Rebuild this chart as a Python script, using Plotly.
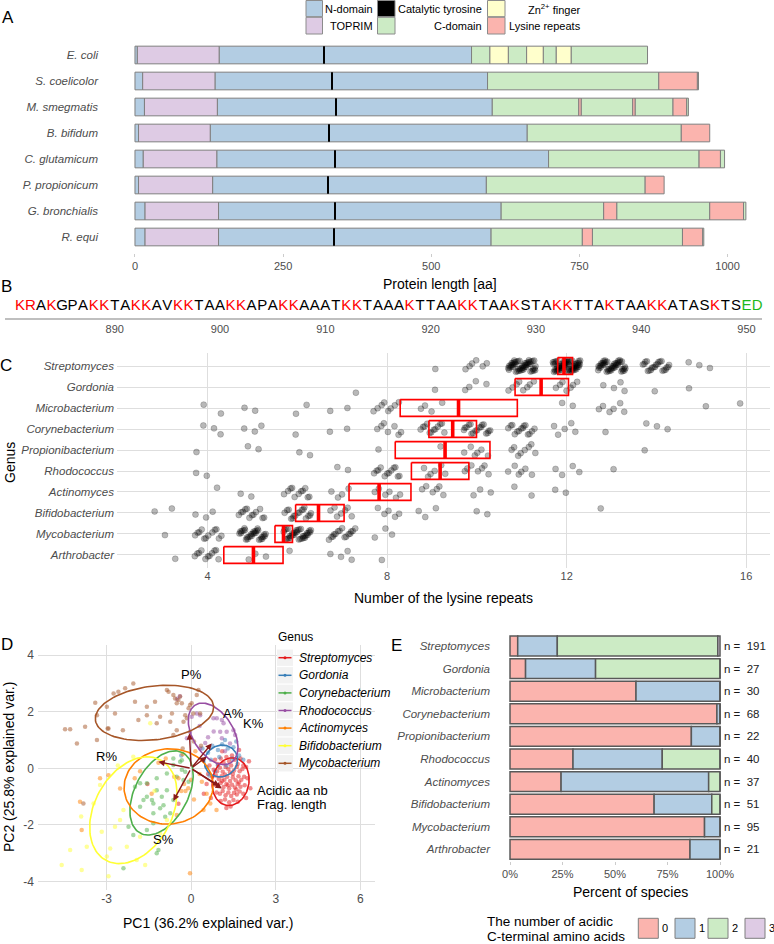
import numpy as np
import plotly.graph_objects as go

W, H = 774, 944
FONT = "Liberation Sans, Arial, sans-serif"
TICK_GRAY = "#4D4D4D"
GRID = "#DEDEDE"


def fx(px):
    return px / W


def fy(py):
    return 1 - py / H


# ---------------- Panel A data ----------------
ORGANISMS = ["E. coli", "S. coelicolor", "M. smegmatis", "B. bifidum",
             "C. glutamicum", "P. propionicum", "G. bronchialis", "R. equi"]
TYROSINE_POS = [319, 333, 339, 327, 338, 326, 338, 336]
SEG_E_COLI = [("N", 0, 4), ("T", 4, 142), ("N", 142, 568), ("C", 568, 599), ("Z", 599, 630),
              ("C", 630, 661), ("Z", 661, 689), ("C", 689, 711), ("Z", 711, 736), ("C", 736, 865)]
SEG_S_COELICOLOR = [("N", 0, 13), ("T", 13, 135), ("N", 135, 595), ("C", 595, 884), ("K", 884, 949), ("C", 949, 951)]
SEG_M_SMEGMATIS = [("N", 0, 16), ("T", 16, 139), ("N", 139, 603), ("C", 603, 749), ("K", 749, 753),
                   ("C", 753, 840), ("K", 840, 844), ("C", 844, 908), ("K", 908, 931), ("C", 931, 934)]
SEG_B_BIFIDUM = [("N", 0, 6), ("T", 6, 127), ("N", 127, 662), ("C", 662, 922), ("K", 922, 970)]
SEG_C_GLUTAMICUM = [("N", 0, 14), ("T", 14, 138), ("N", 138, 698), ("C", 698, 952), ("K", 952, 988), ("C", 988, 995)]
SEG_P_PROPIONICUM = [("N", 0, 6), ("T", 6, 131), ("N", 131, 593), ("C", 593, 861), ("K", 861, 893)]
SEG_G_BRONCHIALIS = [("N", 0, 17), ("T", 17, 141), ("N", 141, 618), ("C", 618, 791), ("K", 791, 813),
                     ("C", 813, 970), ("K", 970, 1027), ("C", 1027, 1031)]
SEG_R_EQUI = [("N", 0, 17), ("T", 17, 141), ("N", 141, 601), ("C", 601, 755), ("K", 755, 772),
              ("C", 772, 924), ("K", 924, 958), ("C", 958, 960)]
SEGMENTS = [SEG_E_COLI, SEG_S_COELICOLOR, SEG_M_SMEGMATIS, SEG_B_BIFIDUM,
            SEG_C_GLUTAMICUM, SEG_P_PROPIONICUM, SEG_G_BRONCHIALIS, SEG_R_EQUI]
DOMAIN_COLORS = {"N": "#B3CDE3", "T": "#DECBE4", "C": "#CCEBC5", "Z": "#FFFFCC", "K": "#FBB4AE"}
A_TICKS = [0, 250, 500, 750, 1000]

# ---------------- Panel B data ----------------
SEQUENCE = "KRAKGPAKKTAKKAVKKTAAKKAPAKKAAATKKTAAAKTTAAKKTAAKSTAKKTTAKTAAKKATASKTSED"
SEQ_START = 881
B_TICKS = [890, 900, 910, 920, 930, 940, 950]

# ---------------- Panel C data ----------------
GENERA = ["Streptomyces", "Gordonia", "Microbacterium", "Corynebacterium", "Propionibacterium",
          "Rhodococcus", "Actinomyces", "Bifidobacterium", "Mycobacterium", "Arthrobacter"]
REPEAT_LEVELS = [3, 4, 5, 6, 7, 8, 9, 10, 11, 12, 13, 14, 15, 16]
REPEATS_STREPTOMYCES = [0, 0, 0, 0, 0, 0, 1, 6, 50, 65, 45, 21, 3, 0]
REPEATS_GORDONIA = [0, 0, 0, 0, 1, 0, 1, 4, 8, 7, 4, 1, 1, 0]
REPEATS_MICROBACTERIUM = [0, 2, 2, 2, 2, 8, 4, 0, 0, 2, 6, 0, 1, 1]
REPEATS_CORYNEBACTERIUM = [0, 3, 3, 1, 2, 7, 12, 17, 14, 5, 1, 3, 0, 0]
REPEATS_PROPIONIBACTERIUM = [0, 1, 2, 2, 0, 1, 1, 6, 8, 0, 0, 1, 0, 0]
REPEATS_RHODOCOCCUS = [0, 2, 0, 0, 2, 12, 6, 7, 6, 4, 1, 0, 0, 0]
REPEATS_ACTINOMYCES = [0, 1, 2, 11, 4, 6, 6, 3, 2, 2, 0, 0, 0, 0]
REPEATS_BIFIDOBACTERIUM = [2, 3, 12, 16, 7, 5, 3, 2, 0, 0, 1, 0, 0, 0]
REPEATS_MYCOBACTERIUM = [1, 12, 30, 34, 15, 3, 0, 0, 0, 0, 0, 0, 0, 0]
REPEATS_ARTHROBACTER = [1, 11, 3, 1, 4, 1, 0, 0, 0, 0, 0, 0, 0, 0]
REPEAT_COUNTS = [REPEATS_STREPTOMYCES, REPEATS_GORDONIA, REPEATS_MICROBACTERIUM, REPEATS_CORYNEBACTERIUM,
                 REPEATS_PROPIONIBACTERIUM, REPEATS_RHODOCOCCUS, REPEATS_ACTINOMYCES,
                 REPEATS_BIFIDOBACTERIUM, REPEATS_MYCOBACTERIUM, REPEATS_ARTHROBACTER]
BOX_LOW = [11.80, 10.85, 8.29, 8.93, 8.18, 8.54, 7.15, 5.96, 5.50, 4.36]
BOX_MID = [11.94, 11.43, 9.59, 9.46, 9.29, 9.18, 7.82, 6.47, 5.69, 5.02]
BOX_HIGH = [12.13, 12.04, 10.90, 9.99, 10.29, 9.82, 8.53, 7.04, 5.89, 5.68]
C_TICKS = [4, 8, 12, 16]

# ---------------- Panel D data ----------------
PCA_GENERA = ["Streptomyces", "Gordonia", "Corynebacterium", "Rhodococcus",
              "Actinomyces", "Bifidobacterium", "Mycobacterium"]
PCA_COLORS = ["#E41A1C", "#377EB8", "#4DAF4A", "#984EA3", "#FF7F00", "#FFFF33", "#A65628"]
STREPTOMYCES_PCA = [
    (0.85, 0.30), (0.95, 0.15), (1.05, 0.35), (1.15, 0.20), (1.25, 0.40), (1.35, 0.25), (1.45, 0.45),
    (1.55, 0.30), (1.65, 0.15), (1.75, 0.35), (1.85, 0.10), (0.80, -0.05), (0.92, -0.10), (1.02, 0.02),
    (1.12, -0.12), (1.22, 0.05), (1.32, -0.02), (1.42, 0.10), (1.52, -0.08), (1.62, 0.05), (1.72, -0.10),
    (1.82, -0.02), (1.95, 0.05), (0.75, -0.30), (0.88, -0.25), (0.98, -0.38), (1.08, -0.28), (1.18, -0.40),
    (1.28, -0.30), (1.38, -0.45), (1.48, -0.32), (1.58, -0.42), (1.68, -0.28), (1.78, -0.40), (1.88, -0.30),
    (2.00, -0.35), (0.82, -0.58), (0.95, -0.62), (1.05, -0.52), (1.15, -0.66), (1.25, -0.55), (1.35, -0.70),
    (1.45, -0.58), (1.55, -0.68), (1.65, -0.55), (1.75, -0.65), (1.90, -0.60), (0.90, -0.85), (1.02, -0.90),
    (1.12, -0.80), (1.22, -0.95), (1.32, -0.85), (1.42, -0.98), (1.52, -0.86), (1.62, -0.92), (1.72, -0.82),
    (1.85, -0.90), (1.05, -1.15), (1.20, -1.10), (1.35, -1.20), (1.50, -1.12), (1.65, -1.18), (1.40, -1.35),
    (1.25, -1.40), (0.55, -0.55), (0.60, -0.20), (0.65, 0.10), (2.10, -0.70), (2.05, 0.25), (1.70, 0.65),
    (1.10, 0.60), (0.45, -0.90), (1.95, -1.05), (0.70, -1.05), (1.38, -0.15), (1.48, -0.20), (1.30, -0.60),
    (1.60, -0.75), (1.20, -0.22), (1.10, -0.45), (1.70, -0.50), (-1.55, -0.55), (-0.45, -1.25)]
GORDONIA_PCA = [
    (0.60, 0.55), (0.75, 0.80), (0.95, 0.65), (1.10, 0.85), (1.30, 0.70), (1.50, 0.75), (1.70, 0.45),
    (1.85, 0.30), (0.70, 0.30), (1.00, 0.40), (0.55, 0.05), (0.85, -0.10), (1.45, 0.35), (1.25, 0.10),
    (0.65, -0.25), (1.20, 1.00), (-0.35, 0.45), (0.40, 0.70), (1.60, 0.95), (0.95, 0.10)]
CORYNEBACTERIUM_PCA = [
    (-0.63, 0.12), (-0.39, 0.23), (-0.21, -0.12), (-0.86, -0.18), (-1.22, -0.35), (-1.57, -0.53),
    (-1.81, -0.53), (-1.22, -0.77), (-1.39, -1.12), (-1.34, -1.24), (-1.10, -1.41), (-0.98, -1.30),
    (-0.74, -1.59), (-0.92, -1.71), (-1.34, -1.59), (-1.57, -1.00), (-1.81, -1.36), (-2.22, -2.06),
    (-1.57, -2.18), (-1.16, -2.89), (-1.22, -3.00), (-2.40, -3.53), (-2.05, -2.36), (-1.34, -1.94),
    (-0.51, -0.30), (-0.27, -0.41), (-0.86, -0.77), (-1.69, -1.12), (-0.63, -1.12), (-1.99, -0.65),
    (-0.33, -0.05), (-0.09, -0.47), (-1.04, -1.00), (-0.63, 0.35), (-0.33, 0.29)]
RHODOCOCCUS_PCA = [
    (0.02, 1.82), (0.20, 1.94), (0.32, 1.88), (0.79, 1.77), (0.91, 1.77), (1.09, 1.71), (1.15, 1.59),
    (1.03, 1.29), (1.09, 1.06), (1.26, 1.29), (1.50, 1.35), (1.56, 1.18), (1.38, 0.88), (-0.15, 1.06),
    (-0.04, 1.29), (0.32, 0.70), (0.50, 0.90), (0.80, 1.30), (0.30, 1.50), (1.20, 0.60), (-0.50, 2.45),
    (-0.40, 2.55), (0.60, 1.10)]
ACTINOMYCES_PCA = [
    (-3.94, -1.18), (-3.88, -2.18), (-3.23, -0.35), (-2.93, -0.24), (-2.52, -0.71), (-0.04, -3.71),
    (0.38, -0.47), (0.44, -1.47), (0.90, -1.47), (-0.51, -1.65), (-1.16, 0.20), (-1.81, -0.10),
    (0.68, -1.24), (-0.20, -0.80), (-0.60, -0.30), (0.10, -1.10), (-1.40, -0.90), (0.30, -0.20),
    (0.55, -0.90), (-0.90, 0.35), (-0.30, 0.50), (0.15, 0.60), (-2.00, -0.35), (-0.45, -0.35),
    (-0.25, -0.55), (-0.10, -0.70), (0.00, -0.40), (-0.35, -0.80)]
BIFIDOBACTERIUM_PCA = [
    (-4.59, -3.42), (-4.29, -2.89), (-3.88, -3.59), (-2.93, -3.81), (-2.87, -2.83), (-3.17, -2.24),
    (-2.52, -1.83), (-3.23, -0.59), (-2.05, 0.41), (-1.45, 1.59), (-1.93, -3.24), (-1.63, -3.42),
    (-3.90, -1.70), (-3.46, -1.24), (-2.99, -3.12), (-2.70, -2.06), (-2.40, -1.47), (-1.81, -2.42),
    (-2.28, -2.77), (-1.10, -2.30), (-0.86, -1.83), (-3.70, -2.77), (-2.60, 0.10), (-1.30, -0.80)]
MYCOBACTERIUM_PCA = [
    (-4.47, 1.38), (-4.29, 1.38), (-4.05, 0.88), (-3.76, 1.47), (-3.40, 2.32), (-3.34, 1.88), (-3.34, 1.00),
    (-2.99, 2.18), (-2.93, 1.41), (-2.70, 1.94), (-2.75, 2.65), (-2.58, 2.71), (-2.34, 2.83), (-2.05, 3.00),
    (-1.99, 2.35), (-1.87, 1.71), (-1.57, 2.18), (-1.57, 1.88), (-1.28, 2.35), (-1.22, 1.59), (-0.86, 2.77),
    (-0.80, 2.71), (-0.68, 1.94), (-0.63, 2.59), (-0.57, 2.47), (-0.51, 2.30), (-0.45, 2.42), (-0.39, 2.54),
    (-0.33, 2.30), (-0.21, 1.88), (-0.09, 2.12), (-0.04, 2.24), (0.02, 2.30), (0.08, 1.94), (0.20, 2.59),
    (0.26, 2.77), (0.32, 1.94), (-0.74, 1.65), (-1.10, 1.82), (-0.27, 1.65), (-0.63, 1.18), (-0.51, 1.35),
    (-0.15, 1.77), (-2.42, 1.35), (-2.96, 1.41), (-3.82, -1.24), (0.10, 0.95), (0.35, 0.80), (-0.30, 0.70)]
PCA_POINTS = [STREPTOMYCES_PCA, GORDONIA_PCA, CORYNEBACTERIUM_PCA, RHODOCOCCUS_PCA,
              ACTINOMYCES_PCA, BIFIDOBACTERIUM_PCA, MYCOBACTERIUM_PCA]
# normal-data ellipses (center, semi-axes, angle in degrees)
ELL_CX = [1.40, 1.06, -1.05, 0.78, -0.80, -2.05, -1.30]
ELL_CY = [-0.47, 0.26, -0.87, 1.22, -0.64, -1.48, 1.96]
ELL_A = [0.85, 0.60, 1.61, 1.20, 1.58, 2.02, 2.11]
ELL_B = [0.65, 0.55, 0.94, 0.72, 1.33, 1.37, 0.95]
ELL_ANGLE = [80, 30, 62, -58, 5, 61, 7]
LOADING_NAMES = ["P%", "A%", "K%", "R%", "S%", "Acidic aa nb", "Frag. length"]
LOADING_PC1 = [-0.06, 0.73, 0.55, -1.16, -0.63, 1.09, 1.00]
LOADING_PC2 = [1.24, 0.88, 0.41, 0.23, -1.15, -0.71, -0.62]
LABEL_PC1 = [0.00, 1.50, 2.21, -2.99, -0.98, 2.27, 2.27]
LABEL_PC2 = [3.32, 1.94, 1.57, 0.41, -2.53, -0.79, -1.26]
D_XTICKS = [-3, 0, 3, 6]
D_YTICKS = [-4, -2, 0, 2, 4]

# ---------------- Panel E data ----------------
ACIDIC_0 = [7, 2, 18, 67, 19, 12, 9, 35, 88, 18]
ACIDIC_1 = [36, 9, 12, 1, 3, 17, 26, 14, 7, 3]
ACIDIC_2 = [146, 16, 0, 0, 0, 11, 2, 2, 0, 0]
ACIDIC_3 = [2, 0, 0, 0, 0, 0, 0, 0, 0, 0]
ACIDIC_COLORS = ["#FBB4AE", "#B3CDE3", "#CCEBC5", "#DECBE4"]
E_TICKS = [0, 25, 50, 75, 100]

fig = go.Figure()

# ================= Panel A =================
for code in ["N", "T", "C", "Z", "K"]:
    ys, bases, lens = [], [], []
    for org, segs in zip(ORGANISMS, SEGMENTS):
        for c, s, e in segs:
            if c == code:
                ys.append(org)
                bases.append(s)
                lens.append(e - s)
    fig.add_trace(go.Bar(y=ys, x=lens, base=bases, orientation="h", width=0.68,
                         marker=dict(color=DOMAIN_COLORS[code], line=dict(color="#7F7F7F", width=1)),
                         xaxis="x", yaxis="y", showlegend=False, hoverinfo="skip"))
fig.add_trace(go.Bar(y=ORGANISMS, x=[2.4] * len(ORGANISMS), base=[t - 1.2 for t in TYROSINE_POS],
                     orientation="h", width=0.68, marker=dict(color="black", line=dict(width=0)),
                     xaxis="x", yaxis="y", showlegend=False, hoverinfo="skip"))

# ================= Panel B =================
seq_x = [SEQ_START + i for i in range(len(SEQUENCE))]
seq_col = ["#FF0000" if ch in "KR" else ("#1DB81D" if ch in "ED" else "#000000") for ch in SEQUENCE]
fig.add_trace(go.Scatter(x=seq_x, y=[0] * len(SEQUENCE), mode="text", text=list(SEQUENCE),
                         textfont=dict(color=seq_col, size=15, family=FONT), textposition="middle center",
                         xaxis="x2", yaxis="y2", showlegend=False, hoverinfo="skip", cliponaxis=False))

# ================= Panel C =================
px_, py_ = [], []
for g, counts in enumerate(REPEAT_COUNTS):
    k = 0
    for lvl, n in zip(REPEAT_LEVELS, counts):
        for _ in range(n):
            dx = (((k + 1) * 0.6180339887 + 0.37 * g) % 1.0 - 0.5) * 0.62
            dy = (((k + 1) * 0.7548776662 + 0.23 * g) % 1.0 - 0.5) * 0.56
            px_.append(lvl + dx)
            py_.append(g + dy)
            k += 1
fig.add_trace(go.Scatter(x=px_, y=py_, mode="markers",
                         marker=dict(size=6, color="rgba(0,0,0,0.28)", line=dict(width=0.6, color="rgba(0,0,0,0.3)")),
                         xaxis="x3", yaxis="y3", showlegend=False, hoverinfo="skip"))
bx, by, mx, my = [], [], [], []
for g in range(len(GENERA)):
    lo, mid, hi = BOX_LOW[g], BOX_MID[g], BOX_HIGH[g]
    bx += [lo, hi, hi, lo, lo, None]
    by += [g - 0.4, g - 0.4, g + 0.4, g + 0.4, g - 0.4, None]
    mx += [mid, mid, None]
    my += [g - 0.4, g + 0.4, None]
fig.add_trace(go.Scatter(x=bx, y=by, mode="lines", line=dict(color="#FF0000", width=1.6),
                         xaxis="x3", yaxis="y3", showlegend=False, hoverinfo="skip"))
fig.add_trace(go.Scatter(x=mx, y=my, mode="lines", line=dict(color="#FF0000", width=3.6),
                         xaxis="x3", yaxis="y3", showlegend=False, hoverinfo="skip"))

# ================= Panel D =================
for pts, col in zip(PCA_POINTS, PCA_COLORS):
    fig.add_trace(go.Scatter(x=[p[0] for p in pts], y=[p[1] for p in pts], mode="markers",
                             marker=dict(size=4.5, color=col, opacity=0.5),
                             xaxis="x4", yaxis="y4", showlegend=False, hoverinfo="skip"))
t = np.linspace(0, 2 * np.pi, 120)
for i, col in enumerate(PCA_COLORS):
    th = np.deg2rad(ELL_ANGLE[i])
    ex = ELL_CX[i] + ELL_A[i] * np.cos(t) * np.cos(th) - ELL_B[i] * np.sin(t) * np.sin(th)
    ey = ELL_CY[i] + ELL_A[i] * np.cos(t) * np.sin(th) + ELL_B[i] * np.sin(t) * np.cos(th)
    fig.add_trace(go.Scatter(x=ex, y=ey, mode="lines", line=dict(color=col, width=1.6),
                             xaxis="x4", yaxis="y4", showlegend=False, hoverinfo="skip"))

# ================= Panel E =================
acid_sets = [ACIDIC_0, ACIDIC_1, ACIDIC_2, ACIDIC_3]
totals = [sum(v) for v in zip(*acid_sets)]
cum = [0.0] * len(GENERA)
for cnts, col in zip(acid_sets, ACIDIC_COLORS):
    pct = [100.0 * c / tot for c, tot in zip(cnts, totals)]
    fig.add_trace(go.Bar(y=list(range(len(GENERA))), x=pct, base=list(cum), orientation="h", width=0.88,
                         marker=dict(color=col, line=dict(color="#595959", width=1.5)),
                         xaxis="x5", yaxis="y5", showlegend=False, hoverinfo="skip"))
    cum = [a + b for a, b in zip(cum, pct)]

# ================= Annotations & shapes =================
ann = []
shapes = []


def txt(x, y, s, size=14, color="black", xanchor="center", yanchor="middle", angle=0, style="normal"):
    ann.append(dict(x=fx(x), y=fy(y), xref="paper", yref="paper", text=s, showarrow=False,
                    xanchor=xanchor, yanchor=yanchor, textangle=angle,
                    font=dict(size=size, color=color, family=FONT, style=style)))


# panel letters
for lab, x, y in [("A", 7.5, 17), ("B", 6, 286), ("C", 6, 366), ("D", 7, 644), ("E", 397, 645)]:
    txt(x, y, lab, size=17)

# axis titles
txt(440, 284, "Protein length [aa]")
txt(443.5, 598, "Number of the lysine repeats")
txt(10, 463, "Genus", angle=-90)
txt(208, 923, "PC1 (36.2% explained var.)")
txt(9, 767, "PC2 (25.8% explained var.)", angle=-90)
txt(630, 892, "Percent of species")

# Panel A legend
leg_items = [
    (306, 322.5, 0.5, 16.7, "N", "N-domain", 375, 8.6),
    (306, 322.5, 17.3, 34, "T", "TOPRIM", 375, 25.7),
    (377.5, 395, 0.5, 16.7, "Y", "Catalytic tyrosine", 484, 8.6),
    (377.5, 395, 17.3, 34, "C", "C-domain", 484, 25.7),
    (487.5, 505, 0.5, 16.7, "Z", "Zn<sup>2+</sup> finger", 582.5, 8.6),
    (487.5, 505, 17.3, 34, "K", "Lysine repeats", 582.5, 25.7),
]
for x0, x1, y0, y1, code, label, tx, ty in leg_items:
    fill = "black" if code == "Y" else DOMAIN_COLORS[code]
    shapes.append(dict(type="rect", xref="paper", yref="paper", x0=fx(x0), x1=fx(x1), y0=fy(y1), y1=fy(y0),
                       fillcolor=fill, line=dict(color="#8C8C8C", width=1)))
    txt(tx, ty, label, size=11, xanchor="right")

# Panel D loadings arrows and labels
for name, lx, ly, tx, ty in zip(LOADING_NAMES, LOADING_PC1, LOADING_PC2, LABEL_PC1, LABEL_PC2):
    ann.append(dict(x=lx, y=ly, ax=0, ay=0, xref="x4", yref="y4", axref="x4", ayref="y4", text=" ",
                    font=dict(size=1), showarrow=True, arrowhead=2, arrowsize=0.9, arrowwidth=1.4,
                    arrowcolor="#8B1A1A", standoff=0, startstandoff=0))
    anchor = "left" if name in ("Acidic aa nb", "Frag. length") else "center"
    ann.append(dict(x=tx, y=ty, xref="x4", yref="y4", text=name, showarrow=False, xanchor=anchor,
                    yanchor="middle", font=dict(size=13, color="black", family=FONT)))

# Panel D legend
txt(276, 637, "Genus", size=12, xanchor="left")
for i, (gname, col) in enumerate(zip(PCA_GENERA, PCA_COLORS)):
    cy = 657.7 + 17.6 * i
    shapes.append(dict(type="rect", xref="paper", yref="paper", x0=fx(277), x1=fx(293),
                       y0=fy(cy + 8.2), y1=fy(cy - 8.2), fillcolor="#F2F2F2", line=dict(width=0)))
    shapes.append(dict(type="line", xref="paper", yref="paper", x0=fx(278.5), x1=fx(291.5),
                       y0=fy(cy), y1=fy(cy), line=dict(color=col, width=1.5)))
    shapes.append(dict(type="circle", xref="paper", yref="paper", x0=fx(283.5), x1=fx(286.5),
                       y0=fy(cy + 1.5), y1=fy(cy - 1.5), fillcolor=col, line=dict(width=0)))
    txt(297, cy, gname, size=12, xanchor="left", style="italic")

# Panel E n labels
for i, tot in enumerate(totals):
    ann.append(dict(x=100, y=i, xref="x5", yref="y5", text=f"n =  {tot}", showarrow=False,
                    xanchor="left", xshift=2, yanchor="middle",
                    font=dict(size=11.5, color="#1A1A1A", family=FONT)))

# Panel E legend
txt(485, 921.5, "The number of acidic", size=13.5, xanchor="left")
txt(485, 936, "C-terminal amino acids", size=13.5, xanchor="left")
for (k0, k1, lx), col, lab in zip([(638.3, 658.3, 665), (675, 695, 702), (708, 728, 735), (745, 765, 772)],
                                  ACIDIC_COLORS, ["0", "1", "2", "3"]):
    shapes.append(dict(type="rect", xref="paper", yref="paper", x0=fx(k0), x1=fx(k1), y0=fy(938.3),
                       y1=fy(918.3), fillcolor=col, line=dict(color="#7F7F7F", width=1)))
    txt(lx, 928.3, lab, size=11)

tickfont = dict(size=11, color=TICK_GRAY, family=FONT)
tickfont_it = dict(size=11.5, color=TICK_GRAY, family=FONT, style="italic")

fig.update_layout(
    width=W, height=H, margin=dict(l=0, r=0, t=0, b=0),
    paper_bgcolor="white", plot_bgcolor="rgba(0,0,0,0)",
    font=dict(family=FONT), barmode="overlay", showlegend=False,
    annotations=ann, shapes=shapes,
    # Panel A
    xaxis=dict(domain=[fx(105), fx(771)], range=[-50.6, 1073.4], anchor="y", tickvals=A_TICKS,
               ticks="outside", ticklen=3, tickcolor="#CCCCCC", showgrid=False, zeroline=False,
               showline=False, tickfont=tickfont, fixedrange=True),
    yaxis=dict(domain=[fy(252.6), fy(39.4)], type="category", categoryorder="array",
               categoryarray=ORGANISMS, range=[7.6, -0.6], anchor="x", ticks="", showgrid=False,
               zeroline=False, tickfont=tickfont_it, ticklabelstandoff=6),
    # Panel B
    xaxis2=dict(domain=[fx(5), fx(762)], range=[879.58, 951.47], anchor="y2", tickvals=B_TICKS,
                ticks="", showgrid=False, zeroline=False, showline=True, linecolor="#BFBFBF",
                linewidth=2, tickfont=tickfont),
    yaxis2=dict(domain=[fy(318), fy(295)], range=[-1, 1], anchor="x2", visible=False),
    # Panel C
    xaxis3=dict(domain=[fx(117), fx(770)], range=[1.98, 16.53], anchor="y3", tickvals=C_TICKS,
                ticks="", showgrid=True, gridcolor=GRID, gridwidth=1, zeroline=False, tickfont=tickfont),
    yaxis3=dict(domain=[fy(568), fy(353)], range=[9.62, -0.62], anchor="x3",
                tickvals=list(range(len(GENERA))), ticktext=GENERA, ticks="", showgrid=True,
                gridcolor=GRID, gridwidth=1, zeroline=False, tickfont=tickfont_it, ticklabelstandoff=2),
    # Panel D
    xaxis4=dict(domain=[fx(38), fx(375)], range=[-5.43, 6.52], anchor="y4", tickvals=D_XTICKS,
                ticktext=[str(v) for v in D_XTICKS], ticks="", showgrid=True, gridcolor=GRID,
                zeroline=False, tickfont=dict(size=12, color=TICK_GRAY, family=FONT)),
    yaxis4=dict(domain=[fy(890), fy(645)], range=[-4.30, 4.36], anchor="x4", tickvals=D_YTICKS,
                ticktext=[str(v) for v in D_YTICKS], ticks="", showgrid=True, gridcolor=GRID,
                zeroline=False, tickfont=dict(size=12, color=TICK_GRAY, family=FONT), ticklabelstandoff=3),
    # Panel E
    xaxis5=dict(domain=[fx(493), fx(766)], range=[-8.1, 121.9], anchor="y5", tickvals=E_TICKS,
                ticktext=[f"{v}%" for v in E_TICKS], ticks="outside", ticklen=3, tickcolor="#CCCCCC",
                showgrid=False, zeroline=False, tickfont=tickfont),
    yaxis5=dict(domain=[fy(860.7), fy(634.7)], range=[9.5, -0.5], anchor="x5",
                tickvals=list(range(len(GENERA))), ticktext=GENERA, ticks="", showgrid=False,
                zeroline=False, tickfont=tickfont_it, ticklabelstandoff=2),
)

fig.write_html("out.html", config={"displayModeBar": False},
               post_script="document.body.style.margin='0';document.body.style.overflow='hidden';")
